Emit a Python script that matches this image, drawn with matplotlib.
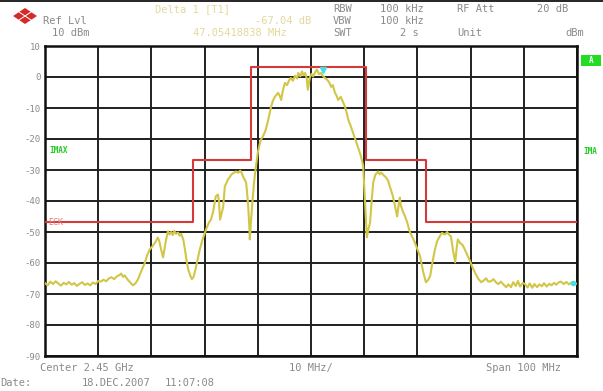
import numpy as np
import matplotlib.pyplot as plt
from matplotlib.patches import Polygon, Rectangle

# Frequency offset from centre (MHz) and level (dBm) of the max-hold trace
freq = [-50, -49.5, -49, -48.5, -48, -47.5, -47, -46.5, -46, -45.5, -45, -44.5, -44, -43.5, -43,
        -42.5, -42, -41.5, -41, -40.5, -40, -39.5, -39, -38.5, -38, -37.5, -37, -36.5, -36, -35.7,
        -35.3, -35, -34.5, -34, -33.5, -33, -32.5, -32, -31.5, -31.2, -30.8, -30.3, -29.8, -29.3,
        -28.8, -28.5, -28.2, -27.8, -27.5, -27.3, -26.9, -26.6, -26.3, -26.0, -25.7, -25.4, -25.0,
        -24.7, -24.4, -24.0, -23.7, -23.4, -23.1, -22.7, -22.4, -22.1, -21.8, -21.4, -20.9, -20.4,
        -19.9, -19.6, -19.2, -18.8, -18.4, -18.1, -17.9, -17.5, -17.3, -17.1, -16.8, -16.5, -16.2,
        -15.9, -15.6, -15.3, -15.0, -14.6, -14.1, -13.7, -13.3, -13.0, -12.8, -12.5, -12.2, -12.0,
        -11.8, -11.6, -11.5, -11.3, -11.0, -10.7, -10.5, -10.2, -10.0, -9.7, -9.4, -9.0, -8.6, -8.2,
        -7.8, -7.5, -7.2, -6.8, -6.5, -6.2, -5.9, -5.6, -5.3, -4.9, -4.5, -4.1, -3.8, -3.4, -3.0,
        -2.6, -2.4, -2.0, -1.7, -1.4, -1.1, -0.8, -0.6, -0.4, -0.2, 0.1, 0.4, 0.8, 1.1, 1.5, 1.9,
        2.2, 2.6, 3.0, 3.4, 3.8, 4.1, 4.5, 4.8, 5.1, 5.4, 5.6, 6.0, 6.4, 6.7, 7.0, 7.4, 7.9, 8.3,
        8.8, 9.1, 9.4, 9.8, 10.2, 10.5, 10.8, 11.1, 11.4, 11.7, 12.1, 12.6, 12.9, 13.2, 13.6, 14.1,
        14.5, 15.0, 15.4, 15.8, 16.2, 16.5, 16.7, 16.9, 17.3, 17.7, 18.1, 18.6, 19.1, 19.5, 20.1,
        20.5, 21.1, 21.6, 22.0, 22.4, 22.8, 23.3, 23.7, 24.2, 24.6, 25.2, 25.6, 26.0, 26.3, 26.7,
        27.1, 27.4, 27.6, 28.0, 28.5, 28.9, 29.4, 29.9, 30.3, 30.8, 31.4, 32.0, 32.5, 32.9, 33.3,
        33.8, 34.3, 34.8, 35.2, 35.7, 36.2, 36.7, 37.1, 37.6, 38.0, 38.5, 38.9, 39.3, 39.8, 40.2,
        40.7, 41.1, 41.6, 42.0, 42.5, 42.9, 43.4, 43.8, 44.3, 44.8, 45.2, 45.7, 46.1, 46.6, 47.0,
        47.5, 48.0, 48.5, 49.0, 49.5, 50.0]
level = [-66.5, -67.2, -66.0, -66.8, -65.9, -66.6, -67.3, -66.4, -66.9, -66.1, -67.0, -66.5, -67.4,
         -66.7, -66.2, -67.1, -66.6, -67.2, -66.3, -66.8, -65.8, -66.0, -65.4, -65.9, -65.0, -64.6,
         -65.2, -64.3, -63.9, -63.4, -64.5, -64.0, -65.3, -66.2, -67.2, -66.6, -65.2, -63.0, -61.0,
         -59.8, -57.5, -55.6, -54.6, -53.4, -51.8, -53.0, -55.5, -58.2, -55.0, -53.0, -49.8, -50.8,
         -50.0, -51.0, -49.6, -50.6, -50.2, -51.2, -50.6, -52.5, -55.6, -59.0, -62.0, -64.0, -65.2,
         -64.6, -62.7, -59.5, -55.6, -52.5, -50.0, -48.6, -47.0, -46.0, -43.5, -40.5, -38.5, -37.9,
         -40.0, -46.0, -44.0, -41.8, -35.3, -34.2, -33.0, -32.4, -31.5, -31.0, -30.5, -30.9, -30.2,
         -31.0, -32.0, -33.0, -34.0, -37.5, -41.8, -48.0, -52.4, -47.0, -40.0, -34.0, -30.8, -27.0,
         -24.4, -22.0, -20.2, -19.0, -17.5, -15.0, -12.0, -9.6, -7.8, -6.4, -5.8, -5.1, -6.0, -7.4,
         -4.5, -1.9, -2.6, -1.0, -0.3, -1.2, 0.4, -0.5, 1.3, 0.2, 1.8, 0.6, 1.3, -0.5, -4.1, -2.0,
         0.0, 1.0, 0.2, 1.6, 2.4, 0.9, 1.3, 0.4, -0.3, -0.8, -1.7, -3.2, -2.6, -5.1, -6.0, -7.4,
         -6.8, -6.4, -8.0, -9.6, -11.5, -13.8, -15.5, -18.0, -20.0, -22.5, -24.0, -25.7, -28.5,
         -41.8, -51.7, -49.0, -47.0, -40.0, -34.0, -31.5, -30.5, -31.4, -30.8, -31.6, -32.4, -33.5,
         -36.3, -38.5, -41.8, -45.0, -41.0, -38.9, -41.5, -43.5, -45.0, -47.0, -50.1, -51.8, -53.3,
         -56.0, -57.8, -63.0, -66.2, -65.5, -64.2, -60.0, -55.6, -53.0, -51.4, -50.3, -50.8, -50.0,
         -51.0, -51.4, -56.0, -59.8, -55.0, -52.4, -53.5, -54.2, -55.6, -57.5, -59.4, -61.2, -63.0,
         -65.0, -66.2, -65.6, -64.9, -66.0, -65.9, -65.2, -66.3, -66.8, -66.0, -67.0, -67.8, -66.9,
         -67.8, -66.2, -67.4, -65.8, -67.6, -66.4, -66.8, -67.9, -66.6, -68.0, -66.8, -67.8, -66.9,
         -67.5, -66.5, -67.6, -66.7, -67.2, -66.4, -67.0, -66.2, -66.0, -66.8, -66.1, -66.9, -66.3,
         -67.0, -66.6]

# Spectrum mask (ECK limit line): step edges in MHz and levels in dBm
mask_edges = [-50, -22.2, -11.3, 10.4, 21.6, 50]
mask_levels = [-46.8, -26.8, 3.2, -26.8, -46.8]

# Markers: reference marker on the peak and delta marker near the right edge
marker_ref = (2.3, 2.2)
marker_delta = (49.2, -66.3)

W, H = 603, 391
fig = plt.figure(figsize=(W / 100, H / 100), dpi=100)
fig.patch.set_facecolor('white')


def px(x, y):
    return x / W, 1 - y / H


def fig_line(x0, y0, x1, y1, **kw):
    (a, b), (c, d) = px(x0, y0), px(x1, y1)
    fig.lines.append(plt.Line2D([a, c], [b, d], transform=fig.transFigure, **kw))


ax = fig.add_axes([45 / W, 1 - 356 / H, 532 / W, 310 / H])
ax.set_xlim(-50, 50)
ax.set_ylim(-90, 10)
ax.set_xticks(np.arange(-50, 51, 10))
ax.set_yticks(np.arange(-90, 11, 10))
ax.set_xticklabels([])
ax.set_yticklabels([str(v) for v in np.arange(-90, 11, 10)], fontsize=6.5,
                   color='#8a8a8a', family='DejaVu Sans Mono')
ax.tick_params(length=0, pad=3)
ax.grid(True, color='#202020', linewidth=1.4)
ax.set_axisbelow(True)
for s in ax.spines.values():
    s.set_linewidth(1.8)
    s.set_color('#101010')

# limit line
mx, my = [], []
for i, lv in enumerate(mask_levels):
    mx += [mask_edges[i], mask_edges[i + 1]]
    my += [lv, lv]
ax.plot(mx, my, color='#d43a3a', linewidth=1.5, zorder=3)

ax.plot(freq, level, color='#d2c647', linewidth=1.5, zorder=4)
ax.plot(*marker_ref, marker='v', color='#40e0e8', markersize=4, zorder=5)
ax.plot(*marker_delta, marker='o', color='#40e0e8', markersize=3, zorder=5)

ax.text(-49.4, -46.8, 'ECK', fontsize=6, color='#e07a7a', va='center',
        family='DejaVu Sans Mono', zorder=6)
ax.text(-49.2, -23.8, 'IMAX', fontsize=5.5, color='#22cc22', va='center',
        fontweight='bold', family='DejaVu Sans Mono')

# side labels outside the grid
fig.text(*px(583, 151), 'IMA', fontsize=5.5, color='#22cc22', va='center',
         fontweight='bold', family='DejaVu Sans Mono')
fig.patches.append(Rectangle(px(581, 66), 20 / W, 11 / H, transform=fig.transFigure,
                             facecolor='#22dd22', edgecolor='none'))
fig.text(*px(591, 60.5), 'A', fontsize=5.5, color='white', ha='center', va='center',
         fontweight='bold', family='DejaVu Sans Mono')

# logo: red diamond split by a thin white cross
fig.patches.append(Polygon([px(13, 16), px(25, 8), px(37, 16), px(25, 24)],
                           closed=True, transform=fig.transFigure,
                           facecolor='#d42a2a', edgecolor='none'))
fig_line(19, 12, 31, 20, color='white', linewidth=0.7)
fig_line(31, 12, 19, 20, color='white', linewidth=0.7)

# top rule
fig_line(0, 0.5, W, 0.5, color='black', linewidth=1.2)

gray = '#8a8a8a'
yellow = '#e2d99c'
font = dict(fontsize=7.5, family='DejaVu Sans Mono', va='center')

header = [
    (43, 21, 'Ref Lvl', gray), (52, 33, '10 dBm', gray),
    (155, 9, 'Delta 1 [T1]', yellow), (255, 21, '-67.04 dB', yellow),
    (193, 33, '47.05418838 MHz', yellow),
    (333, 9, 'RBW', gray), (380, 9, '100 kHz', gray), (457, 9, 'RF Att', gray),
    (537, 9, '20 dB', gray),
    (333, 21, 'VBW', gray), (380, 21, '100 kHz', gray),
    (333, 33, 'SWT', gray), (400, 33, '2 s', gray), (457, 33, 'Unit', gray),
    (565, 33, 'dBm', gray),
    (40, 368, 'Center 2.45 GHz', gray), (289, 368, '10 MHz/', gray),
    (486, 368, 'Span 100 MHz', gray),
    (0, 383, 'Date:', gray), (82, 383, '18.DEC.2007', gray), (165, 383, '11:07:08', gray),
]
for x, y, s, c in header:
    fig.text(*px(x, y), s, color=c, **font)

fig.savefig('out.png', dpi=100)
